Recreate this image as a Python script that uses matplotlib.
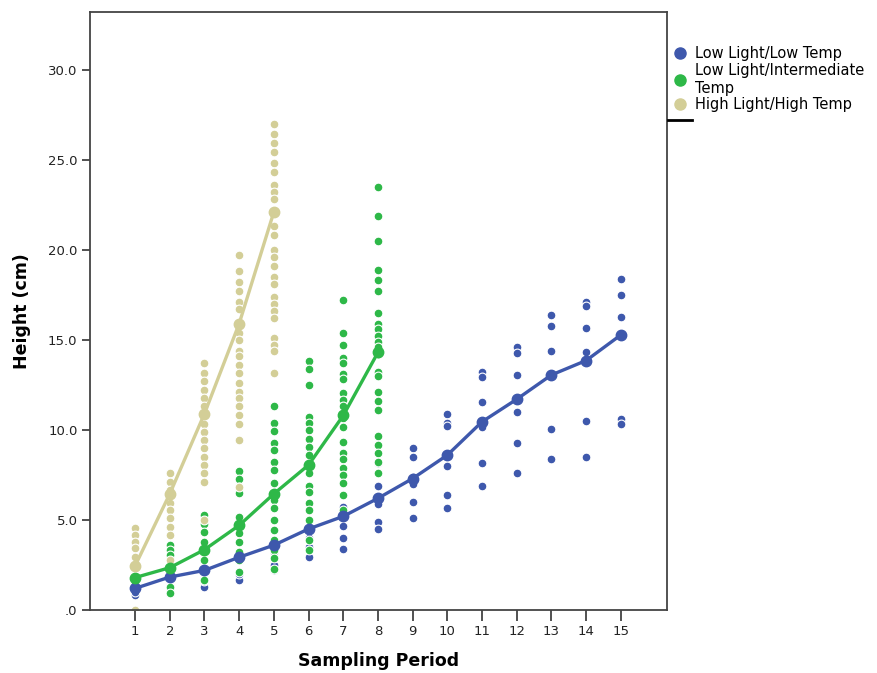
import matplotlib
matplotlib.use("Agg")
import matplotlib.pyplot as plt
from matplotlib.lines import Line2D
from matplotlib.ticker import FuncFormatter

# sampling periods
periods = list(range(1, 16))

# Low Light/Low Temp : individual heights per period (periods 1-15)
low_low_pts = [
    [1.2, 0.83, 1.0],
    [1.83, 0.93, 1.2],
    [2.2, 1.3, 1.6],
    [2.96, 1.67, 2.0],
    [3.6, 2.2, 2.5, 3.2],
    [4.48, 3.98, 3.52, 2.96],
    [5.74, 5.19, 4.67, 3.98, 3.39],
    [8.15, 6.9, 6.2, 5.87, 4.9, 4.48],
    [9.0, 8.5, 7.4, 7.0, 6.0, 5.1],
    [10.9, 10.37, 10.22, 8.6, 7.98, 6.39, 5.68],
    [13.2, 12.96, 11.57, 10.5, 10.18, 8.18, 6.89],
    [14.6, 14.26, 13.07, 11.67, 10.98, 9.28, 7.59],
    [16.39, 15.78, 14.37, 13.02, 10.07, 8.37],
    [17.1, 16.85, 15.67, 14.3, 13.8, 10.48, 8.48],
    [18.39, 17.48, 16.28, 15.24, 10.59, 10.33],
]
low_low_mean = [1.2, 1.83, 2.2, 2.93, 3.6, 4.5, 5.2, 6.2, 7.3, 8.6, 10.45, 11.7, 13.05, 13.85, 15.27]

# Low Light/Intermediate Temp (periods 1-8)
low_int_pts = [
    [1.85, 1.3, 1.6],
    [3.6, 3.33, 3.06, 2.4, 1.85, 1.3, 0.93],
    [5.28, 4.8, 4.35, 3.8, 3.33, 2.78, 2.2, 1.67],
    [7.7, 7.3, 6.85, 6.48, 5.19, 4.72, 4.26, 3.8, 3.24, 2.78, 2.13],
    [11.3, 10.4, 9.96, 9.26, 8.9, 8.24, 7.8, 7.04, 6.48, 6.1, 5.65, 5.0,
     4.44, 3.9, 3.33, 2.87, 2.3],
    [13.8, 13.4, 12.5, 10.7, 10.4, 10.0, 9.5, 9.07, 8.6, 8.05, 7.6, 6.9,
     6.57, 5.93, 5.56, 5.0, 4.44, 3.89, 3.33],
    [17.2, 15.4, 14.7, 14.0, 13.7, 13.1, 12.8, 12.07, 11.67, 11.3, 10.65,
     10.18, 9.35, 8.74, 8.37, 7.9, 7.5, 7.04, 6.39, 5.56],
    [23.5, 21.85, 20.5, 18.9, 18.3, 17.7, 16.5, 15.9, 15.6, 15.2, 14.9, 14.6,
     14.2, 13.2, 13.0, 12.1, 11.6, 11.1, 9.67, 9.18, 8.74, 8.22, 7.59],
]
low_int_mean = [1.8, 2.35, 3.35, 4.7, 6.45, 8.05, 10.8, 14.3]

# High Light/High Temp (periods 1-5)
high_high_pts = [
    [4.54, 4.17, 3.8, 3.43, 2.96, 2.4, 0.0],
    [7.6, 7.13, 6.67, 6.39, 5.93, 5.56, 5.09, 4.63, 4.17, 2.78],
    [13.7, 13.15, 12.7, 12.2, 11.76, 11.3, 10.8, 10.3, 9.9, 9.44, 8.98,
     8.5, 8.06, 7.6, 7.13, 5.0],
    [19.7, 18.8, 18.2, 17.7, 17.1, 16.7, 15.9, 15.4, 15.0, 14.4, 14.1, 13.6,
     13.15, 12.6, 12.1, 11.76, 11.3, 10.8, 10.3, 9.44, 6.85],
    [27.0, 26.4, 25.9, 25.4, 24.8, 24.3, 23.6, 23.2, 22.8, 22.1, 21.3, 20.8,
     20.0, 19.6, 19.1, 18.5, 18.1, 17.4, 17.0, 16.6, 16.2, 15.1, 14.7, 14.4,
     13.15],
]
high_high_mean = [2.45, 6.45, 10.9, 15.9, 22.1]

labels = ["Low Light/Low Temp", "Low Light/Intermediate\nTemp", "High Light/High Temp"]
colors = ["#3E58AC", "#2EB848", "#D3CE97"]

groups = [(low_low_pts, low_low_mean), (low_int_pts, low_int_mean), (high_high_pts, high_high_mean)]

fig = plt.figure(figsize=(8.77, 6.73), dpi=100)
ax = fig.add_axes([0.1026, 0.0936, 0.6579, 0.8886])

# points first
for (pts, mean), c in zip(groups, colors):
    xs, ys = [], []
    for p, vals in zip(periods, pts):
        xs += [p] * len(vals)
        ys += vals
    ax.scatter(xs, ys, s=40, color=c, edgecolors="white", linewidths=0.8, zorder=2)

# mean lines
for (pts, mean), c in zip(groups, colors):
    ax.plot(periods[:len(mean)], mean, color=c, lw=2.4, marker="o", ms=7.5,
            mec=c, zorder=3)

ax.set_xlim(-0.3, 16.33)
ax.set_ylim(0, 33.2)
ax.set_xticks(periods)
ax.set_yticks([0, 5, 10, 15, 20, 25, 30])
ax.yaxis.set_major_formatter(FuncFormatter(lambda v, _: ".0" if v == 0 else "%.1f" % v))
ax.tick_params(axis="x", length=8, width=1.2, color="#333333", labelsize=9.5, labelcolor="#222222", pad=3)
ax.tick_params(axis="y", length=6, width=1.2, color="#333333", labelsize=9.5, labelcolor="#222222", pad=3)
for s in ax.spines.values():
    s.set_linewidth(1.3)
    s.set_color("#444444")

ax.set_xlabel("Sampling Period", fontsize=12.5, fontweight="bold", labelpad=10)
ax.set_ylabel("Height (cm)", fontsize=12.5, fontweight="bold", labelpad=12)

handles = [Line2D([], [], ls="none", marker="o", ms=8, color=c) for c in colors]
fig.legend(handles, labels, loc="upper left", bbox_to_anchor=(0.768, 0.931),
           frameon=False, fontsize=10.5, handletextpad=0.55, labelspacing=0.12,
           handlelength=0.9, borderaxespad=0, borderpad=0)

# short black mark beside the legend
fig.add_artist(Line2D([0.762, 0.789], [0.822, 0.822], color="black", lw=2))

fig.savefig("out.png", dpi=100)
